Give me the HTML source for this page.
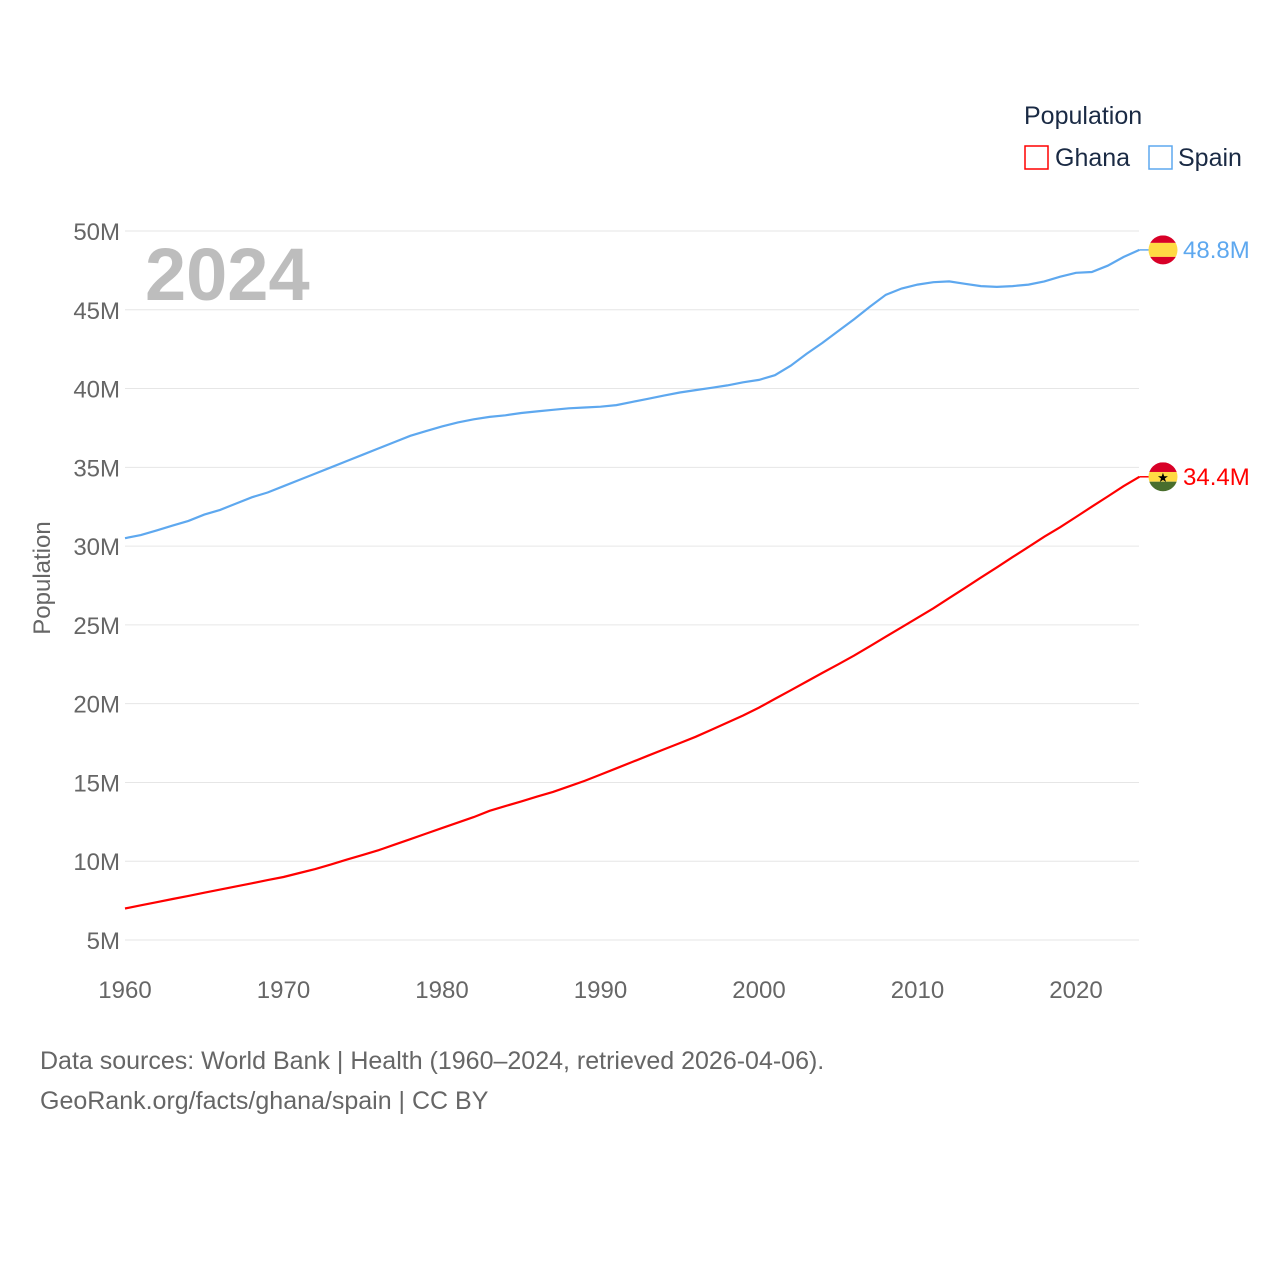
<!DOCTYPE html>
<html><head><meta charset="utf-8"><style>
body{margin:0;background:#fff;}
svg text{font-family:"Liberation Sans",sans-serif;}
</style></head><body>
<svg id="chart" width="1280" height="1280" viewBox="0 0 1280 1280" xmlns="http://www.w3.org/2000/svg">
<g id="grid"></g>
<g id="yticks"></g>
<g id="xticks"></g>
<text x="145" y="300" font-size="74" font-weight="bold" fill="#bdbdbd">2024</text>
<text transform="translate(50,578) rotate(-90)" text-anchor="middle" font-size="24" fill="#666">Population</text>
<g id="series"></g>
<g>
<text x="1024" y="124" font-size="25" fill="#1a2a44">Population</text>
<g><rect x="1025" y="146" width="23" height="23" fill="none" stroke="#ff0000" stroke-width="1.5"/><text x="1055" y="166" font-size="25" fill="#1a2a44">Ghana</text></g>
<g><rect x="1149" y="146" width="23" height="23" fill="none" stroke="#5ea8ef" stroke-width="1.5"/><text x="1178" y="166" font-size="25" fill="#1a2a44">Spain</text></g>
</g>
<text x="40" y="1069" font-size="25" fill="#666">Data sources: World Bank | Health (1960–2024, retrieved 2026-04-06).</text>
<text x="40" y="1109" font-size="25" fill="#666">GeoRank.org/facts/ghana/spain | CC BY</text>
</svg>
<script>
const years=[];for(let y=1960;y<=2024;y++)years.push(y);
const spain=[30.5,30.7,31.0,31.3,31.6,32.0,32.3,32.7,33.1,33.4,33.8,34.2,34.6,35.0,35.4,35.8,36.2,36.6,37.0,37.3,37.6,37.85,38.05,38.2,38.3,38.45,38.55,38.65,38.75,38.8,38.85,38.95,39.15,39.35,39.55,39.75,39.9,40.05,40.2,40.4,40.55,40.85,41.45,42.2,42.9,43.65,44.4,45.2,45.95,46.35,46.6,46.75,46.8,46.65,46.5,46.45,46.5,46.6,46.8,47.1,47.35,47.4,47.8,48.35,48.8];
const ghana=[7.0,7.2,7.4,7.6,7.8,8.0,8.2,8.4,8.6,8.8,9.0,9.25,9.5,9.8,10.1,10.4,10.7,11.05,11.4,11.75,12.1,12.45,12.8,13.2,13.5,13.8,14.1,14.4,14.75,15.1,15.5,15.9,16.3,16.7,17.1,17.5,17.9,18.35,18.8,19.25,19.75,20.3,20.85,21.4,21.95,22.5,23.05,23.65,24.25,24.85,25.45,26.05,26.7,27.35,28.0,28.65,29.3,29.95,30.6,31.2,31.85,32.5,33.15,33.8,34.4];
const yTicks=[5,10,15,20,25,30,35,40,45,50];
const xTicks=[1960,1970,1980,1990,2000,2010,2020];
const NS="http://www.w3.org/2000/svg";
const X=y=>125+(y-1960)*(1076-125)/60;
const Y=v=>940-(v-5)*(940-231)/45;
function mk(t,a,p){const e=document.createElementNS(NS,t);for(const k in a)e.setAttribute(k,a[k]);p.appendChild(e);return e;}
const grid=document.getElementById('grid'),yt=document.getElementById('yticks'),xt=document.getElementById('xticks'),ser=document.getElementById('series');
yTicks.forEach(v=>{
 const l=mk('line',{x1:125,x2:1139,y1:Y(v),y2:Y(v),stroke:'#e6e6e6','stroke-width':1},grid);
 
 
 const t=mk('text',{x:120,y:Y(v)+9,'text-anchor':'end','font-size':24,fill:'#666'},yt);t.textContent=v+'M';
 
 
});
xTicks.forEach(v=>{
 const t=mk('text',{x:X(v),y:998,'text-anchor':'middle','font-size':24,fill:'#666'},xt);t.textContent=v;
 
 
});
function line(vals,color,name){
 const d=vals.map((v,i)=>(i?'L':'M')+X(years[i]).toFixed(1)+' '+Y(v).toFixed(1)).join(' ');
 const p=mk('path',{d:d,fill:'none',stroke:color,'stroke-width':2.2},ser);
 
 
 const lv=vals[vals.length-1],ly=Y(lv);
 mk('line',{x1:X(2024),x2:1150,y1:ly,y2:ly,stroke:color,'stroke-width':1.5},ser);
 const lab=mk('text',{x:1183,y:ly+8,'font-size':24,fill:color},ser);lab.textContent=lv.toFixed(1)+'M';
 
 
 return ly;
}
const sy=line(spain,'#5ea8ef','spain'), gy=line(ghana,'#ff0000','ghana');
function flag(cy,bands,name,star){
 const g=mk('g',{},ser);
 
 
 const id='c'+name;
 const cp=mk('clipPath',{id:id},g);mk('circle',{cx:1163,cy:cy,r:14.5},cp);
 const gg=mk('g',{'clip-path':'url(#'+id+')'},g);
 let y0=cy-14.5;bands.forEach(b=>{mk('rect',{x:1148,y:y0,width:30,height:b[1],fill:b[0]},gg);y0+=b[1];});
 if(star){const s=mk('text',{x:1163,y:cy+5,'text-anchor':'middle','font-size':13,fill:'#000'},g);s.textContent='★';}
}
flag(sy,[['#d80027',7.5],['#ffda44',14],['#d80027',8]],'spain',false);
flag(gy,[['#d80027',9.7],['#ffda44',9.7],['#496e2d',10]],'ghana',true);
</script>
</body></html>
